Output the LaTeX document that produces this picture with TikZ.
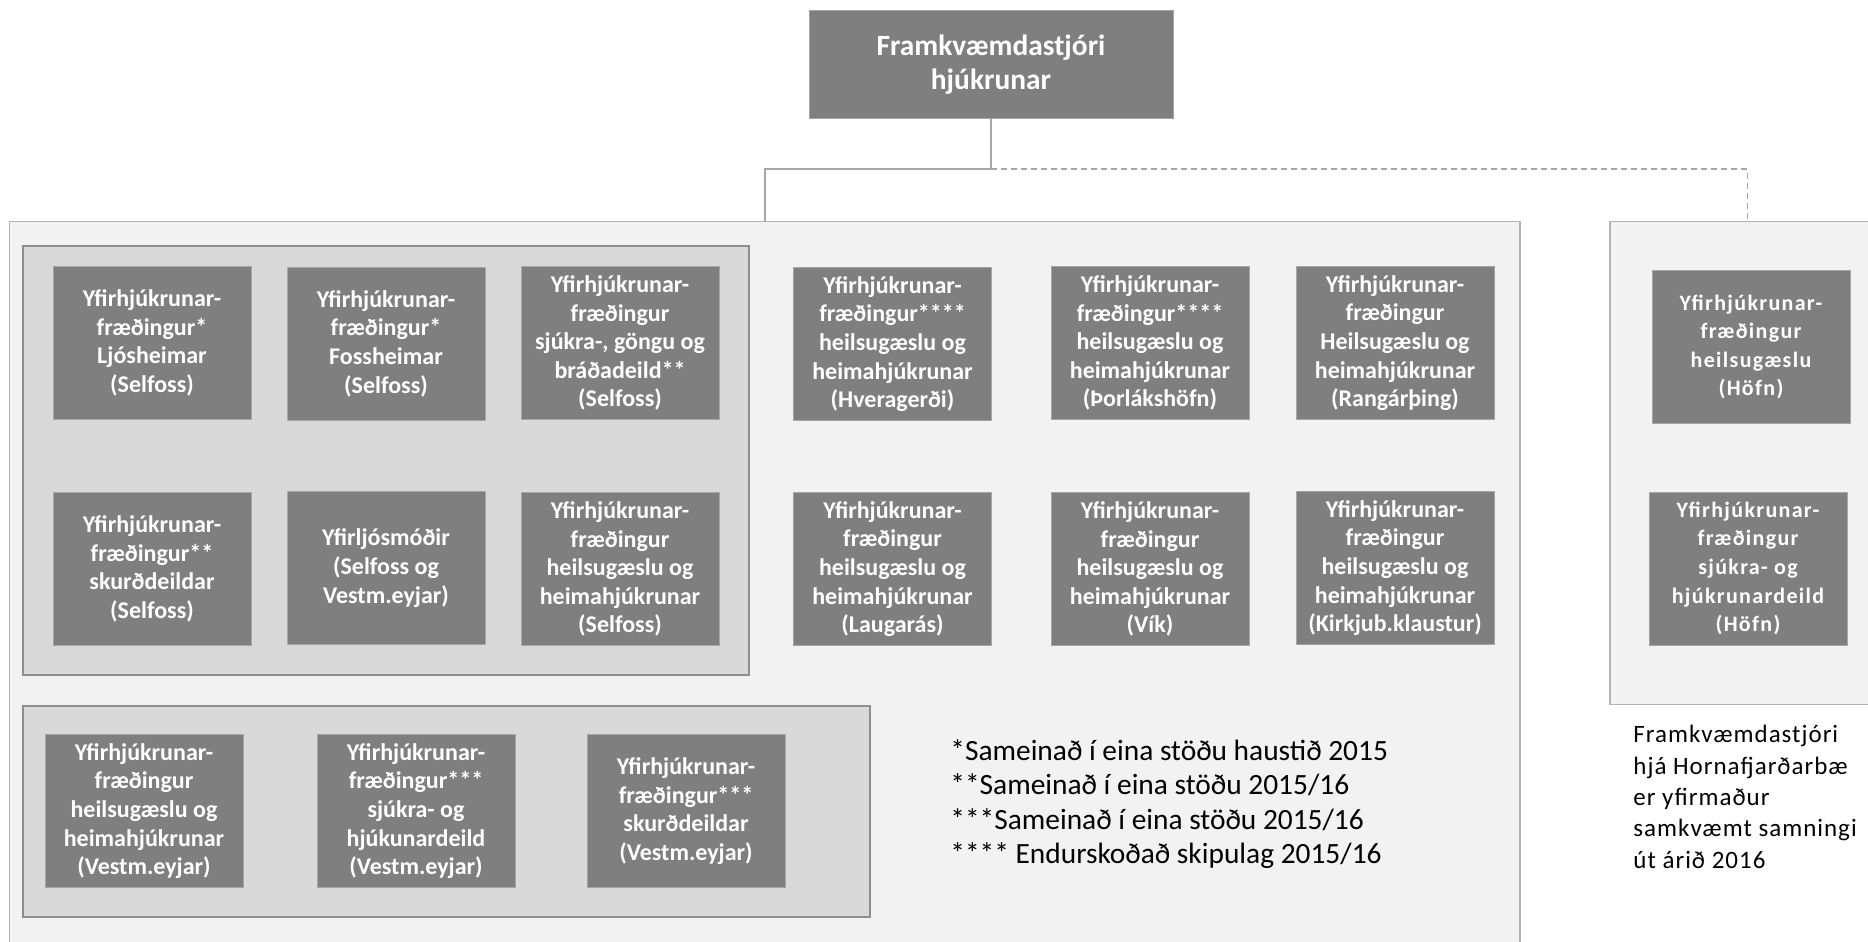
\documentclass[tikz,border=0pt]{standalone}
\usepackage{fontspec}
\setmainfont{Carlito}
\usetikzlibrary{positioning}
\definecolor{unitGray}{HTML}{7F7F7F}
\definecolor{groupGray}{HTML}{D9D9D9}
\definecolor{panelGray}{HTML}{F2F2F2}
\definecolor{lineGray}{HTML}{A6A6A6}
\definecolor{edgeGray}{HTML}{B4B4B4}

\begin{document}
\begin{tikzpicture}[
x=0.5pt, y=-0.5pt,
every node/.style={font=\fontsize{12}{14.3}\selectfont},
unit/.style={draw=lineGray, fill=unitGray, text=white, align=center, inner sep=2pt, line width=0.4pt, minimum width=99pt, minimum height=76.5pt, font=\fontsize{12}{14.3}\selectfont\bfseries},
wideunit/.style={unit, font=\fontsize{11}{14.3}\selectfont\bfseries\addfontfeatures{LetterSpace=6}},
panel/.style={draw=edgeGray, fill=panelGray, inner sep=0pt, line width=0.7pt},
group/.style={draw=lineGray!85!black, fill=groupGray, inner sep=0pt, line width=0.7pt},
link/.style={draw=lineGray, line width=0.8pt},
dlink/.style={link, dash pattern=on 3pt off 2pt}
]
\clip (0,0) rectangle (1868,942);
\fill[white] (0,0) rectangle (1868,942);

% Chief and the two panels
\node[unit, minimum width=182pt, minimum height=53.75pt, font=\fontsize{14.7}{16.8}\selectfont\bfseries] (c0) at (991,64.5) {Framkvæmdastjóri\\hjúkrunar};
\node[panel, minimum width=755.25pt, minimum height=379.2pt] (P0) at (764.75,600.8) {};
\node[panel, minimum width=137.5pt, minimum height=241.45pt] (P1) at (1747.5,463) {};
\coordinate (split) at (991,169);
\draw[link] (c0.south) -- (split) -| (P0.north);
\draw[dlink] (split) -| (P1.north);

% Selfoss group
\node[group, minimum width=363pt, minimum height=214.5pt] (G1) at (386,460.5) {};
\node[unit] (s1) at (152,343) {Yfirhjúkrunar-\\fræðingur*\\Ljósheimar\\(Selfoss)};
\node[unit] (s2) at (386,343.5) {Yfirhjúkrunar-\\fræðingur*\\Fossheimar\\(Selfoss)};
\node[unit] (s3) at (620,343) {Yfirhjúkrunar-\\fræðingur\\sjúkra-, göngu og\\bráðadeild**\\(Selfoss)};
\node[unit] (s4) at (152,569) {Yfirhjúkrunar-\\fræðingur**\\skurðdeildar\\(Selfoss)};
\node[unit] (s5) at (386,568) {Yfirljósmóðir\\(Selfoss og\\Vestm.eyjar)};
\node[unit] (s6) at (620,569) {Yfirhjúkrunar-\\fræðingur\\heilsugæslu og\\heimahjúkrunar\\(Selfoss)};

% Health centres
\node[unit] (h1) at (892.5,344) {Yfirhjúkrunar-\\fræðingur****\\heilsugæslu og\\heimahjúkrunar\\(Hveragerði)};
\node[unit] (h2) at (1150,343) {Yfirhjúkrunar-\\fræðingur****\\heilsugæslu og\\heimahjúkrunar\\(Þorlákshöfn)};
\node[unit] (h3) at (1395,343) {Yfirhjúkrunar-\\fræðingur\\Heilsugæslu og\\heimahjúkrunar\\(Rangárþing)};
\node[unit] (h4) at (892.5,569) {Yfirhjúkrunar-\\fræðingur\\heilsugæslu og\\heimahjúkrunar\\(Laugarás)};
\node[unit] (h5) at (1150,569) {Yfirhjúkrunar-\\fræðingur\\heilsugæslu og\\heimahjúkrunar\\(Vík)};
\node[unit] (h6) at (1395,568) {Yfirhjúkrunar-\\fræðingur\\heilsugæslu og\\heimahjúkrunar\\(Kirkjub.klaustur)};

% Vestmannaeyjar group
\node[group, minimum width=423.5pt, minimum height=105.5pt] (G2) at (446.5,811.5) {};
\node[unit] (v1) at (144,811) {Yfirhjúkrunar-\\fræðingur\\heilsugæslu og\\heimahjúkrunar\\(Vestm.eyjar)};
\node[unit] (v2) at (416,811) {Yfirhjúkrunar-\\fræðingur***\\sjúkra- og\\hjúkunardeild\\(Vestm.eyjar)};
\node[unit] (v3) at (686,811) {Yfirhjúkrunar-\\fræðingur***\\skurðdeildar\\(Vestm.eyjar)};

% Footnotes
\node[anchor=west, align=left, inner sep=0pt, font=\fontsize{14.7}{17.3}\selectfont] (notes) at (950,804) {*Sameinað í eina stöðu haustið 2015\\**Sameinað í eina stöðu 2015/16\\***Sameinað í eina stöðu 2015/16\\**** Endurskoðað skipulag 2015/16};

% Höfn
\node[wideunit] (f1) at (1751,347) {Yfirhjúkrunar-\\fræðingur\\heilsugæslu\\(Höfn)};
\node[wideunit] (f2) at (1748,568.5) {Yfirhjúkrunar-\\fræðingur\\sjúkra- og\\hjúkrunardeild\\(Höfn)};
\node[anchor=west, align=left, inner sep=0pt, font=\fontsize{12.5}{15.7}\selectfont\addfontfeatures{LetterSpace=4}] (hnote) at (1633,797) {Framkvæmdastjóri\\hjá Hornafjarðarbæ\\er yfirmaður\\samkvæmt samningi\\út árið 2016};
\end{tikzpicture}
\end{document}
